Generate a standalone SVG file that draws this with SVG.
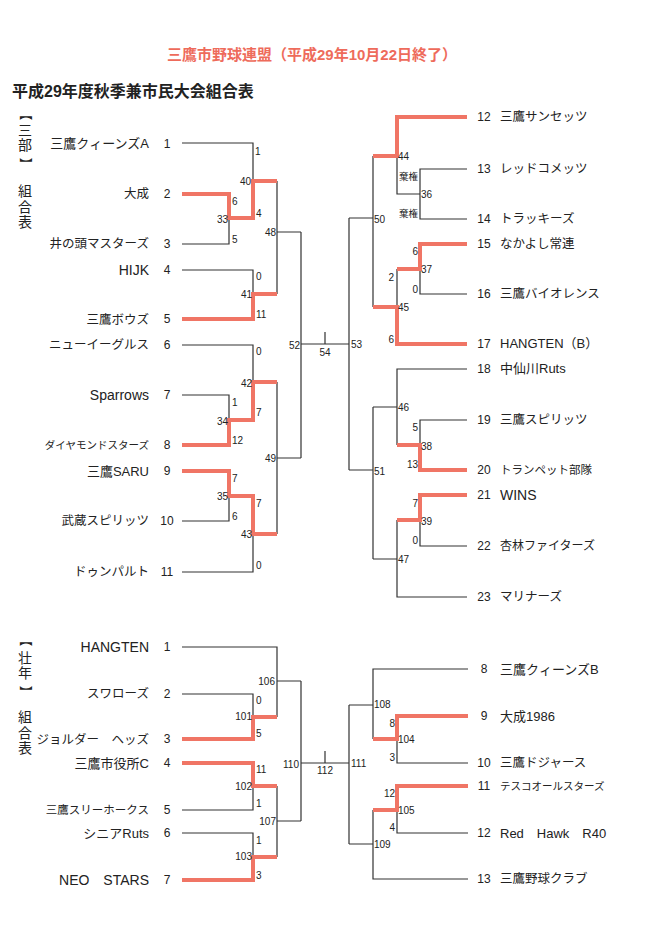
<svg xmlns="http://www.w3.org/2000/svg" width="646" height="926" viewBox="0 0 646 926">
<style>
.k{stroke:#333;stroke-width:1.2;fill:none}
.r{stroke:#f07565;stroke-width:4;fill:none;stroke-linejoin:miter}
text{font-family:"Liberation Sans","Noto Sans CJK JP",sans-serif;fill:#222}
.s{font-size:10px}
.e{text-anchor:end}
.m{text-anchor:middle}
.nm{font-size:12.5px}
.lt{font-size:14px}
.mx{font-size:13px}
.no{font-size:12px;text-anchor:middle}
.side{font-size:14px;text-anchor:middle}
.br{font-size:13px;text-anchor:middle;dominant-baseline:central}
</style>
<rect width="646" height="926" fill="#fff"/>
<text x="167" y="60" style="font-size:15px;font-weight:bold;fill:#ee6b5b">三鷹市野球連盟（平成29年10月22日終了）</text>
<text x="12" y="97" style="font-size:16px;font-weight:bold">平成29年度秋季兼市民大会組合表</text>
<g id="side-top">
<text class="br" transform="translate(25,114) rotate(90)">【</text>
<text class="side" x="25" y="135">三</text>
<text class="side" x="25" y="150">部</text>
<text class="br" transform="translate(25,164) rotate(90)">】</text>
<text class="side" x="25" y="196">組</text>
<text class="side" x="25" y="212">合</text>
<text class="side" x="25" y="227">表</text>
</g>
<g id="side-bottom">
<text class="br" transform="translate(25,640) rotate(90)">【</text>
<text class="side" x="25" y="663">壮</text>
<text class="side" x="25" y="678">年</text>
<text class="br" transform="translate(25,692) rotate(90)">】</text>
<text class="side" x="25" y="722">組</text>
<text class="side" x="25" y="738">合</text>
<text class="side" x="25" y="753">表</text>
</g>
<g id="connectors">
<path class="k" d="M182 143H253V181M182 244H229V218M182 270H253V294M277 181V294M277 232H301M182 345H253V382M182 395H229V420M182 521H229V496M182 572H253V534M277 382V534M277 458H301M301 232V458M301 344H349M325 332V344M349 218V470M349 218H373M349 470H373M373 156V307M397 156V194H420M467 169H420V219H467M467 294H420V269M397 269V307M373 407V559M467 369H397V445M397 407H373M467 420H420V445M467 546H420V520M397 520V597H467M397 559H373"/>
<path class="k" d="M182 647H277V717M182 694H253V717M277 681H301M182 810H253V786M182 833H253V857M277 786V857M277 821H301M301 681V821M301 763H349M325 751V763M349 705V844M349 705H373M349 844H373M468 669H373V739M468 763H397V739M468 833H397V810M373 810V879H468"/>
<path class="r" d="M182 194H229V218H253V181H277M182 319H253V294H277M182 445H229V420H253V382H277M182 471H229V496H253V534H277"/>
<path class="r" d="M467 117H397V156H373M467 244H420V269H397M467 344H397V307H373M467 470H420V445H397M467 495H420V520H397"/>
<path class="r" d="M182 739H253V717H277M182 763H253V786H277M182 880H253V857H277M468 716H397V739H373M468 786H397V810H373"/>
<g id="scores">
<text class="s" x="255" y="155">1</text>
<text class="s e" x="251" y="185">40</text>
<text class="s" x="232" y="205">6</text>
<text class="s e" x="228" y="223">33</text>
<text class="s" x="256" y="217">4</text>
<text class="s" x="232" y="243">5</text>
<text class="s e" x="276" y="236">48</text>
<text class="s" x="256" y="280">0</text>
<text class="s e" x="252" y="298">41</text>
<text class="s" x="256" y="318">11</text>
<text class="s" x="256" y="355">0</text>
<text class="s e" x="252" y="387">42</text>
<text class="s e" x="300" y="349">52</text>
<text class="s" x="232" y="406">1</text>
<text class="s" x="256" y="416">7</text>
<text class="s e" x="228" y="425">34</text>
<text class="s" x="232" y="444">12</text>
<text class="s e" x="276" y="462">49</text>
<text class="s" x="232" y="482">7</text>
<text class="s e" x="228" y="500">35</text>
<text class="s" x="256" y="507">7</text>
<text class="s" x="232" y="520">6</text>
<text class="s e" x="252" y="538">43</text>
<text class="s" x="256" y="569">0</text>
<text class="s m" x="325" y="356">54</text>
<text class="s" x="351" y="348">53</text>
<text class="s" x="398" y="160">44</text>
<text class="s" x="399" y="180" style="font-size:9.5px">棄権</text>
<text class="s" x="421" y="198">36</text>
<text class="s" x="399" y="217" style="font-size:9.5px">棄権</text>
<text class="s" x="374" y="223">50</text>
<text class="s e" x="418" y="255">6</text>
<text class="s" x="421" y="273">37</text>
<text class="s e" x="394" y="281">2</text>
<text class="s e" x="418" y="293">0</text>
<text class="s" x="398" y="311">45</text>
<text class="s e" x="394" y="343">6</text>
<text class="s" x="398" y="411">46</text>
<text class="s e" x="418" y="431">5</text>
<text class="s" x="421" y="450">38</text>
<text class="s e" x="418" y="468">13</text>
<text class="s" x="374" y="475">51</text>
<text class="s e" x="418" y="507">7</text>
<text class="s" x="421" y="525">39</text>
<text class="s e" x="418" y="544">0</text>
<text class="s" x="398" y="563">47</text>
<text class="s e" x="275" y="685">106</text>
<text class="s" x="256" y="704">0</text>
<text class="s e" x="252" y="720">101</text>
<text class="s" x="256" y="737">5</text>
<text class="s" x="256" y="773">11</text>
<text class="s e" x="252" y="790">102</text>
<text class="s" x="256" y="807">1</text>
<text class="s e" x="276" y="825">107</text>
<text class="s e" x="299" y="768">110</text>
<text class="s" x="256" y="844">1</text>
<text class="s e" x="252" y="860">103</text>
<text class="s" x="256" y="879">3</text>
<text class="s m" x="325" y="774">112</text>
<text class="s" x="351" y="767">111</text>
<text class="s" x="374" y="708">108</text>
<text class="s e" x="395" y="727">8</text>
<text class="s" x="398" y="743">104</text>
<text class="s e" x="395" y="761">3</text>
<text class="s e" x="395" y="797">12</text>
<text class="s" x="398" y="814">105</text>
<text class="s e" x="395" y="831">4</text>
<text class="s" x="374" y="848">109</text>
</g>
</g>
<g id="team-t1"><text class="mx e" x="149" y="148">三鷹クィーンズA</text><text class="no" x="167" y="148">1</text></g>
<g id="team-t2"><text class="nm e" x="149" y="198">大成</text><text class="no" x="167" y="198">2</text></g>
<g id="team-t3"><text class="nm e" x="149" y="248">井の頭マスターズ</text><text class="no" x="167" y="248">3</text></g>
<g id="team-t4"><text class="lt e" x="149" y="275">HIJK</text><text class="no" x="167" y="274">4</text></g>
<g id="team-t5"><text class="nm e" x="149" y="324">三鷹ボウズ</text><text class="no" x="167" y="323">5</text></g>
<g id="team-t6"><text class="nm e" x="149" y="349">ニューイーグルス</text><text class="no" x="167" y="349">6</text></g>
<g id="team-t7"><text class="lt e" x="149" y="400">Sparrows</text><text class="no" x="167" y="399">7</text></g>
<g id="team-t8"><text class="e" x="149" y="449" style="font-size:10.5px">ダイヤモンドスターズ</text><text class="no" x="167" y="449">8</text></g>
<g id="team-t9"><text class="mx e" x="149" y="476">三鷹SARU</text><text class="no" x="167" y="475">9</text></g>
<g id="team-t10"><text class="nm e" x="149" y="525">武蔵スピリッツ</text><text class="no" x="167" y="525">10</text></g>
<g id="team-t11"><text class="nm e" x="149" y="576">ドゥンパルト</text><text class="no" x="167" y="576">11</text></g>
<g id="team-t12"><text class="no" x="484" y="121">12</text><text class="nm" x="500" y="121">三鷹サンセッツ</text></g>
<g id="team-t13"><text class="no" x="484" y="173">13</text><text class="nm" x="500" y="173">レッドコメッツ</text></g>
<g id="team-t14"><text class="no" x="484" y="223">14</text><text class="nm" x="500" y="223">トラッキーズ</text></g>
<g id="team-t15"><text class="no" x="484" y="248">15</text><text class="nm" x="500" y="248">なかよし常連</text></g>
<g id="team-t16"><text class="no" x="484" y="298">16</text><text class="nm" x="500" y="298">三鷹バイオレンス</text></g>
<g id="team-t17"><text class="no" x="484" y="348">17</text><text class="mx" x="500" y="348">HANGTEN（B）</text></g>
<g id="team-t18"><text class="no" x="484" y="373">18</text><text class="mx" x="500" y="373">中仙川Ruts</text></g>
<g id="team-t19"><text class="no" x="484" y="424">19</text><text class="nm" x="500" y="424">三鷹スピリッツ</text></g>
<g id="team-t20"><text class="no" x="484" y="474">20</text><text class="nm" x="500" y="474" style="font-size:11.5px">トランペット部隊</text></g>
<g id="team-t21"><text class="no" x="484" y="499">21</text><text class="lt" x="500" y="500">WINS</text></g>
<g id="team-t22"><text class="no" x="484" y="550">22</text><text class="nm" x="500" y="550" style="font-size:12px">杏林ファイターズ</text></g>
<g id="team-t23"><text class="no" x="484" y="601">23</text><text class="nm" x="500" y="601">マリナーズ</text></g>
<g id="team-b1"><text class="lt e" x="149" y="652">HANGTEN</text><text class="no" x="167" y="651">1</text></g>
<g id="team-b2"><text class="nm e" x="149" y="698">スワローズ</text><text class="no" x="167" y="698">2</text></g>
<g id="team-b3"><text class="nm e" x="149" y="744">ジョルダー　ヘッズ</text><text class="no" x="167" y="743">3</text></g>
<g id="team-b4"><text class="mx e" x="149" y="768">三鷹市役所C</text><text class="no" x="167" y="767">4</text></g>
<g id="team-b5"><text class="e" x="149" y="814" style="font-size:11.5px">三鷹スリーホークス</text><text class="no" x="167" y="814">5</text></g>
<g id="team-b6"><text class="mx e" x="149" y="838">シニアRuts</text><text class="no" x="167" y="837">6</text></g>
<g id="team-b7"><text class="lt e" x="149" y="885">NEO　STARS</text><text class="no" x="167" y="884">7</text></g>
<g id="team-b8"><text class="no" x="484" y="673">8</text><text class="mx" x="500" y="674">三鷹クィーンズB</text></g>
<g id="team-b9"><text class="no" x="484" y="720">9</text><text class="mx" x="500" y="721">大成1986</text></g>
<g id="team-b10"><text class="no" x="484" y="767">10</text><text class="nm" x="500" y="767">三鷹ドジャース</text></g>
<g id="team-b11"><text class="no" x="484" y="790">11</text><text x="500" y="790" style="font-size:10.5px">テスコオールスターズ</text></g>
<g id="team-b12"><text class="no" x="484" y="837">12</text><text x="500" y="838" style="font-size:13px">Red　Hawk　R40</text></g>
<g id="team-b13"><text class="no" x="484" y="883">13</text><text class="nm" x="500" y="883">三鷹野球クラブ</text></g>
</svg>
